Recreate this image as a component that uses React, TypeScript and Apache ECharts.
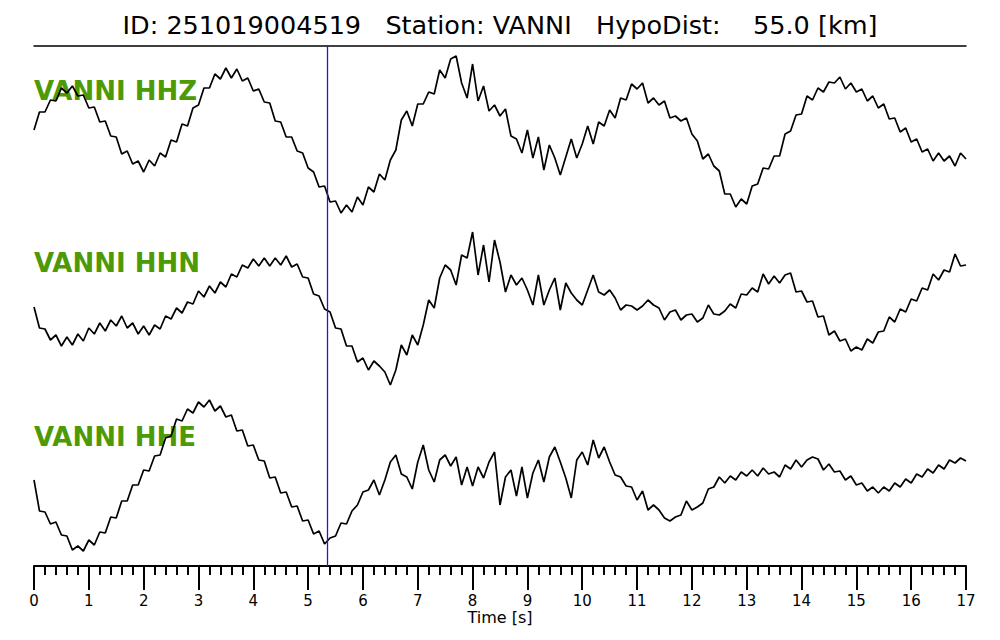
import React, { useEffect, useRef } from "react";
import * as echarts from "echarts";

const TITLE = "ID: 251019004519   Station: VANNI   HypoDist:    55.0 [km]";
const CHANNELS = ["VANNI HHZ", "VANNI HHN", "VANNI HHE"];
const SAMPLE_INTERVAL = 0.1; // s
const P_PICK = 5.35; // s
const X_MIN = 0;
const X_MAX = 17;

// amplitudes (arbitrary units), one value every 0.1 s from 0 to 17 s
const hhz = [
  4, 22, 22, 34, 33, 46, 41, 48, 38, 39,
  26, 27, 12, 13, -2, -3, -20, -17, -30, -27,
  -38, -26, -32, -19, -23, -6, -8, 10, 8, 26,
  29, 46, 46, 60, 55, 66, 56, 65, 53, 56,
  43, 45, 32, 31, 13, 12, -3, -3, -17, -19,
  -34, -38, -53, -52, -68, -67, -79, -71, -78, -63,
  -71, -53, -58, -40, -46, -26, -16, 14, 23, 8,
  30, 30, 42, 40, 64, 56, 75, 78, 51, 36,
  70, 33, 48, 23, 29, 18, 25, -2, -5, -19,
  4, -24, -3, -36, -11, -24, -41, -23, -5, -24,
  -10, 8, -10, 12, 8, 24, 16, 36, 34, 50,
  45, 51, 31, 36, 29, 33, 16, 18, 13, 16,
  0, -7, -25, -20, -32, -37, -60, -60, -73, -65,
  -70, -52, -50, -34, -35, -22, -22, 0, 3, 19,
  20, 38, 34, 46, 42, 52, 51, 57, 45, 51,
  42, 45, 33, 38, 26, 30, 15, 16, 2, 6,
  -8, -5, -18, -15, -27, -19, -27, -22, -32, -19,
  -25,
];

const hhn = [
  1, -20, -21, -32, -27, -38, -29, -37, -26, -33,
  -20, -26, -15, -23, -12, -18, -8, -20, -15, -26,
  -18, -27, -17, -21, -8, -11, 0, -5, 6, 4,
  17, 11, 22, 15, 26, 21, 34, 31, 43, 40,
  49, 42, 50, 42, 50, 43, 52, 41, 44, 31,
  30, 14, 12, -1, -4, -20, -21, -38, -38, -54,
  -50, -62, -53, -58, -64, -77, -62, -37, -47, -27,
  -37, -17, 8, 0, 30, 43, 38, 23, 53, 50,
  76, 33, 63, 26, 68, 46, 16, 33, 23, 30,
  18, 3, 33, 3, 18, 30, -2, 25, 15, 8,
  3, 18, 33, 16, 13, 18, 10, -2, 3, 2,
  -2, 2, 8, 3, 0, -12, -4, -2, -12, -7,
  -6, -14, -10, 3, -6, -7, -3, 4, 0, 14,
  13, 20, 16, 34, 24, 32, 25, 33, 35, 16,
  17, 6, 7, -9, -8, -27, -23, -33, -31, -43,
  -39, -42, -31, -35, -24, -23, -9, -14, -1, -4,
  9, 7, 20, 18, 34, 28, 38, 36, 54, 42,
  43,
];

const hhe = [
  0, -31, -32, -44, -42, -55, -56, -70, -66, -71,
  -60, -65, -52, -53, -37, -38, -21, -21, -5, -5,
  10, 9, 24, 25, 42, 44, 61, 59, 71, 67,
  78, 73, 80, 69, 74, 63, 65, 49, 50, 34,
  35, 20, 19, 2, 3, -13, -12, -27, -26, -41,
  -40, -54, -51, -64, -58, -56, -43, -44, -31, -25,
  -12, -10, 0, -15, 0, 18, 25, 6, 3, -9,
  18, 35, 10, -2, 20, 25, 14, 23, -5, 13,
  -6, 13, 2, 18, 28, -25, 3, 10, -16, 13,
  -18, 7, 20, -2, 23, 33, 18, 2, -18, 20,
  28, 15, 40, 22, 33, 18, 5, 3, -6, -7,
  -20, -11, -30, -25, -30, -38, -41, -37, -35, -21,
  -30, -27, -23, -9, -7, 3, -3, 4, 0, 8,
  4, 10, 4, 12, 6, 8, 3, 15, 11, 20,
  13, 20, 23, 21, 10, 16, 8, 9, 0, 4,
  -5, -3, -11, -7, -13, -7, -11, -3, -7, 1,
  -3, 6, 3, 11, 7, 15, 11, 20, 17, 22,
  19,
];

const TRACES = [hhz, hhn, hhe];
const Y_HALF_RANGE = [88, 86, 86];

const FONT = "DejaVu Sans";
const GREEN = "#4e9a06";

function toPairs(arr: number[]) {
  return arr.map((v, i) => [Number((i * SAMPLE_INTERVAL).toFixed(2)), v]);
}

export default function App() {
  const ref = useRef<HTMLDivElement>(null);

  useEffect(() => {
    if (!ref.current) return;
    const chart = echarts.init(ref.current, undefined, { renderer: "svg" });

    const grids = [
      { left: 34, right: 34, top: 46, height: 176 },
      { left: 34, right: 34, top: 222, height: 172 },
      { left: 34, right: 34, top: 394, height: 172 },
    ];

    const hiddenAxis = {
      axisLine: { show: false },
      axisTick: { show: false },
      axisLabel: { show: false },
      splitLine: { show: false },
    };

    const xAxes: any[] = [
      {
        gridIndex: 0,
        type: "value",
        min: X_MIN,
        max: X_MAX,
        position: "top",
        axisLine: { show: true, onZero: false, lineStyle: { color: "#000", width: 1.5 } },
        axisTick: { show: false },
        axisLabel: { show: false },
        splitLine: { show: false },
      },
      { gridIndex: 1, type: "value", min: X_MIN, max: X_MAX, ...hiddenAxis },
      {
        gridIndex: 2,
        type: "value",
        min: X_MIN,
        max: X_MAX,
        interval: 1,
        position: "bottom",
        axisLine: { show: true, onZero: false, lineStyle: { color: "#000", width: 2 } },
        axisTick: { show: true, inside: false, length: 24, lineStyle: { color: "#000", width: 2 } },
        minorTick: { show: true, splitNumber: 5, length: 9, lineStyle: { color: "#000", width: 2 } },
        axisLabel: { show: true, margin: 27, fontSize: 15, color: "#000", fontFamily: FONT },
        splitLine: { show: false },
        minorSplitLine: { show: false },
        name: "Time [s]",
        nameLocation: "middle",
        nameGap: 43,
        nameTextStyle: { fontSize: 16, color: "#000", fontFamily: FONT },
      },
    ];

    const yAxes = Y_HALF_RANGE.map((h, i) => ({
      gridIndex: i,
      type: "value",
      min: -h,
      max: h,
      show: false,
      ...hiddenAxis,
    }));

    const series = TRACES.map((tr, i) => ({
      type: "line",
      name: CHANNELS[i],
      xAxisIndex: i,
      yAxisIndex: i,
      data: toPairs(tr),
      showSymbol: false,
      symbol: "none",
      lineStyle: { color: "#000", width: 1.7 },
      silent: true,
      markLine: {
        silent: true,
        symbol: ["none", "none"],
        label: { show: false },
        lineStyle: { color: "#1c1cd8", width: 1.3, type: "solid" },
        data: [{ xAxis: P_PICK }],
      },
    }));

    const labelTops = [91, 263, 437];
    const graphics: any[] = [
      {
        type: "text",
        left: "center",
        top: 12,
        style: {
          text: TITLE,
          fontSize: 25.5,
          fontFamily: FONT,
          fill: "#000",
        },
      },
      ...CHANNELS.map((c, i) => ({
        type: "text",
        x: 34,
        y: labelTops[i],
        style: {
          text: c,
          fontSize: 26,
          fontWeight: "bold",
          fontFamily: FONT,
          fill: GREEN,
          textVerticalAlign: "middle",
          verticalAlign: "middle",
        },
      })),
    ];

    chart.setOption({
      animation: false,
      backgroundColor: "#fff",
      grid: grids,
      xAxis: xAxes,
      yAxis: yAxes,
      series,
      graphic: graphics,
    });

    return () => chart.dispose();
  }, []);

  return (
    <div
      ref={ref}
      style={{ position: "fixed", left: 0, top: 0, width: 1000, height: 640, background: "#fff" }}
    />
  );
}
